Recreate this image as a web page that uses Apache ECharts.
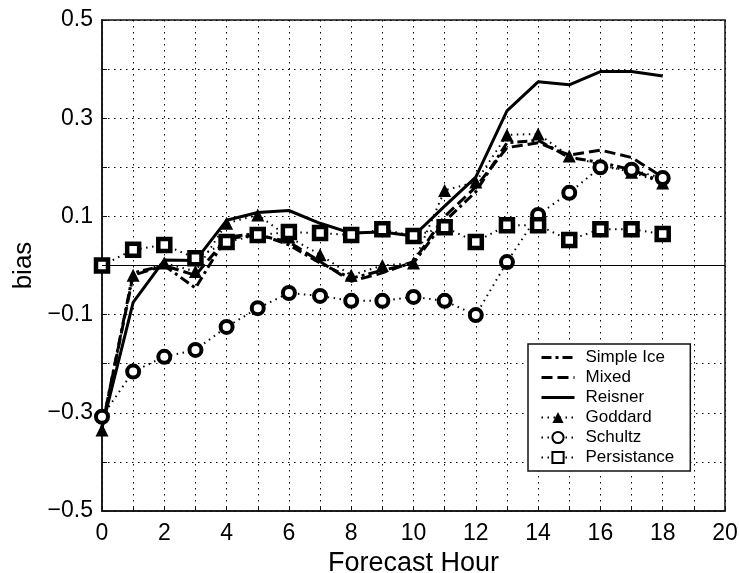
<!DOCTYPE html>
<html>
<head>
<meta charset="utf-8">
<script src="https://cdn.jsdelivr.net/npm/echarts@6/dist/echarts.min.js"></script>
<style>
  html, body { margin: 0; padding: 0; background: #fff; }
  #main { width: 739px; height: 573px; }
</style>
</head>
<body>
<div id="main"></div>
<script>
// forecast hours and bias per scheme
var hours = [0, 1, 2, 3, 4, 5, 6, 7, 8, 9, 10, 11, 12, 13, 14, 15, 16, 17, 18];
var simpleIce = [-0.33, -0.015, 0.0, -0.046, 0.058, 0.065, 0.042, 0.005, -0.026, -0.01, 0.005, 0.09, 0.15, 0.25, 0.255, 0.22, 0.21, 0.195, 0.17];
var mixed = [-0.33, -0.02, 0.0, -0.02, 0.055, 0.062, 0.048, 0.008, -0.032, -0.015, 0.008, 0.1, 0.16, 0.24, 0.25, 0.225, 0.235, 0.22, 0.18];
var reisner = [-0.33, -0.075, 0.011, 0.01, 0.092, 0.108, 0.112, 0.086, 0.066, 0.068, 0.06, 0.121, 0.18, 0.315, 0.374, 0.368, 0.395, 0.395, 0.386];
var goddard = [-0.335, -0.02, 0.005, -0.012, 0.086, 0.103, 0.058, 0.022, -0.02, 0.0, 0.005, 0.153, 0.17, 0.266, 0.268, 0.223, 0.205, 0.19, 0.168];
var schultz = [-0.308, -0.216, -0.186, -0.172, -0.125, -0.087, -0.056, -0.062, -0.072, -0.072, -0.064, -0.072, -0.101, 0.007, 0.103, 0.148, 0.2, 0.195, 0.178];
var persistance = [0.0, 0.032, 0.042, 0.015, 0.048, 0.062, 0.068, 0.066, 0.062, 0.074, 0.06, 0.078, 0.048, 0.082, 0.082, 0.052, 0.074, 0.074, 0.064];

function pairs(vals) {
  return hours.map(function (h, i) { return [h, vals[i]]; });
}

var font = 'Liberation Sans, Arial, sans-serif';
var dotted = { color: '#000', width: 1, type: [1.5, 4.5] };

var option = {
  backgroundColor: '#fff',
  animation: false,
  grid: {
    left: 102, right: 14, top: 20, bottom: 62,
    outerBoundsMode: 'none', containLabel: false,
    show: true, borderColor: '#111', borderWidth: 1.5, backgroundColor: 'transparent'
  },
  xAxis: {
    type: 'value', min: 0, max: 20, interval: 1,
    name: 'Forecast Hour', nameLocation: 'middle', nameGap: 24,
    nameTextStyle: { fontFamily: font, fontSize: 27, color: '#000' },
    axisLine: { onZero: false, lineStyle: { color: '#111', width: 1.5 } },
    axisTick: { inside: true, length: 5, lineStyle: { color: '#111' } },
    axisLabel: {
      fontFamily: font, fontSize: 23, color: '#000', margin: 11,
      formatter: function (v) { return v % 2 === 0 ? String(v) : ''; }
    },
    splitLine: { show: true, lineStyle: dotted }
  },
  yAxis: {
    type: 'value', min: -0.5, max: 0.5, interval: 0.1,
    name: 'bias', nameLocation: 'middle', nameGap: 61,
    nameTextStyle: { fontFamily: font, fontSize: 26, color: '#000' },
    axisLine: { show: true, lineStyle: { color: '#111', width: 1.5 } },
    axisTick: { show: true, inside: true, length: 5, lineStyle: { color: '#111' } },
    axisLabel: {
      fontFamily: font, fontSize: 23, color: '#000', margin: 9,
      formatter: function (v) {
        var k = Math.round(v * 10);
        if (Math.abs(k) % 2 !== 1) return '';
        return (k < 0 ? '\u2212' : '') + Math.abs(v).toFixed(1);
      }
    },
    splitLine: { show: true, lineStyle: dotted }
  },
  legend: {
    orient: 'vertical',
    left: 528, top: 344,
    padding: [5, 16, 5, 12],
    itemGap: 3,
    itemWidth: 33, itemHeight: 14,
    backgroundColor: '#fff',
    borderColor: '#111', borderWidth: 1.5,
    textStyle: { fontFamily: font, fontSize: 17, lineHeight: 17, color: '#000', padding: [0, 0, 0, 6] },
    data: [
      { name: 'Simple Ice', itemStyle: { opacity: 0 }, lineStyle: { width: 3 } },
      { name: 'Mixed', itemStyle: { opacity: 0 }, lineStyle: { width: 3 } },
      { name: 'Reisner', itemStyle: { opacity: 0 }, lineStyle: { width: 3 } },
      { name: 'Goddard', lineStyle: { width: 2 } },
      { name: 'Schultz', lineStyle: { width: 2 } },
      { name: 'Persistance', lineStyle: { width: 2 } }
    ]
  },
  series: [
    {
      name: 'Simple Ice', type: 'line', data: pairs(simpleIce),
      symbol: 'none', itemStyle: { color: '#000' },
      lineStyle: { color: '#000', width: 3, type: [10, 4, 3, 4] },
      markLine: {
        silent: true, symbol: 'none', label: { show: false },
        lineStyle: { color: '#000', width: 1, type: 'solid' },
        data: [{ yAxis: 0 }]
      },
      z: 3
    },
    {
      name: 'Mixed', type: 'line', data: pairs(mixed),
      symbol: 'none', itemStyle: { color: '#000' },
      lineStyle: { color: '#000', width: 3, type: [11, 5] },
      z: 3
    },
    {
      name: 'Reisner', type: 'line', data: pairs(reisner),
      symbol: 'none', itemStyle: { color: '#000' },
      lineStyle: { color: '#000', width: 3, type: 'solid' },
      z: 3
    },
    {
      name: 'Goddard', type: 'line', data: pairs(goddard),
      symbol: 'triangle', symbolSize: 13,
      itemStyle: { color: '#000' },
      lineStyle: { color: '#000', width: 2, type: [1.5, 4.5] },
      z: 4
    },
    {
      name: 'Schultz', type: 'line', data: pairs(schultz),
      symbol: 'circle', symbolSize: 12,
      itemStyle: { color: '#fff', borderColor: '#000', borderWidth: 4 },
      lineStyle: { color: '#000', width: 2, type: [1.5, 4.5] },
      z: 4
    },
    {
      name: 'Persistance', type: 'line', data: pairs(persistance),
      symbol: 'rect', symbolSize: 12,
      itemStyle: { color: '#fff', borderColor: '#000', borderWidth: 4.5 },
      lineStyle: { color: '#000', width: 2, type: [1.5, 4.5] },
      z: 4
    }
  ]
};

var chart = echarts.init(document.getElementById('main'));
chart.setOption(option);
</script>
</body>
</html>
